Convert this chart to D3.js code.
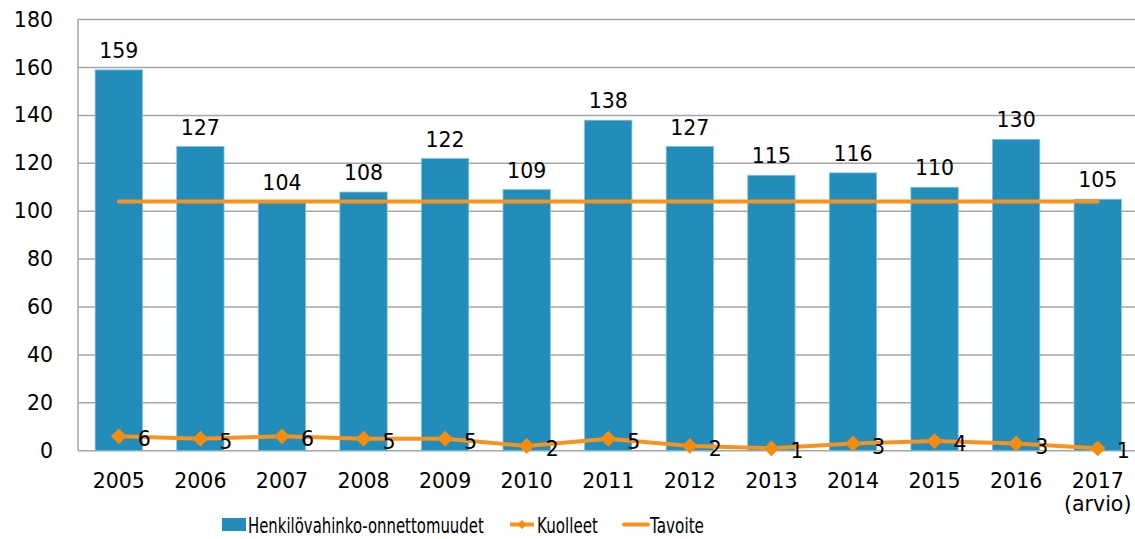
<!DOCTYPE html>
<html><head><meta charset="utf-8">
<script src="https://cdn.jsdelivr.net/npm/d3@7"></script>
<style>body{margin:0;background:#fff}svg{display:block}text{font-family:"DejaVu Sans",Verdana,sans-serif;fill:#000}</style>
</head><body>
<script>
const years = ["2005","2006","2007","2008","2009","2010","2011","2012","2013","2014","2015","2016","2017"];
const yearSub = ["","","","","","","","","","","","","(arvio)"];
const accidents = [159,127,104,108,122,109,138,127,115,116,110,130,105];
const deaths = [6,5,6,5,5,2,5,2,1,3,4,3,1];
const target = [104,104,104,104,104,104,104,104,104,104,104,104,104];
const yTicks = [0,20,40,60,80,100,120,140,160,180];
const legendLabels = ["Henkilövahinko-onnettomuudet","Kuolleet","Tavoite"];

const W=1135,H=539;
const svg=d3.select("body").append("svg").attr("width",W).attr("height",H);
const x=d3.scaleBand().domain(years).range([78,1138.5]).paddingInner(0.42).paddingOuter(0.21);
const y=d3.scaleLinear().domain([0,180]).range([450.7,19.6]);
const cx=d=>x(d)+x.bandwidth()/2;
const blue="#228DBB", orange="#F7931E", grid="#A6A6A6";

// gridlines
svg.append("g").selectAll("line").data(yTicks).join("line")
  .attr("x1",78).attr("x2",1138).attr("y1",d=>y(d)).attr("y2",d=>y(d))
  .attr("stroke",grid).attr("stroke-width",1.5);
svg.append("line").attr("x1",78).attr("x2",78).attr("y1",y(180)).attr("y2",y(0)).attr("stroke",grid).attr("stroke-width",1.5);
// y tick labels
svg.append("g").selectAll("text").data(yTicks).join("text")
  .attr("x",53).attr("y",d=>y(d)+7).attr("text-anchor","end").attr("font-size",20.5).text(d=>d);

// bars
svg.append("g").selectAll("rect").data(accidents).join("rect")
  .attr("x",(d,i)=>x(years[i])).attr("width",x.bandwidth())
  .attr("y",d=>y(d)).attr("height",d=>y(0)-y(d))
  .attr("fill",blue).attr("stroke","#7FC0DD").attr("stroke-width",0.8);
svg.append("g").selectAll("text").data(accidents).join("text")
  .attr("x",(d,i)=>cx(years[i])).attr("y",d=>y(d)-12).attr("text-anchor","middle").attr("font-size",20.5).text(d=>d);

// target line
svg.append("path").datum(target)
  .attr("d",d3.line().x((d,i)=>cx(years[i])).y(d=>y(d)))
  .attr("fill","none").attr("stroke",orange).attr("stroke-width",4).attr("stroke-linecap","round");

// deaths line
svg.append("path").datum(deaths)
  .attr("d",d3.line().x((d,i)=>cx(years[i])).y(d=>y(d)))
  .attr("fill","none").attr("stroke",orange).attr("stroke-width",4).attr("stroke-linejoin","round");
const diamond=d3.symbol().type(d3.symbolDiamond2).size(160);
svg.append("g").selectAll("path").data(deaths).join("path")
  .attr("transform",(d,i)=>`translate(${cx(years[i])},${y(d)})`)
  .attr("d",diamond).attr("fill","#F58C0E");
svg.append("g").selectAll("text").data(deaths).join("text")
  .attr("x",(d,i)=>cx(years[i])+19).attr("y",d=>y(d)+10).attr("font-size",20.5).text(d=>d);

// x labels
svg.append("g").selectAll("text").data(years).join("text")
  .attr("x",d=>cx(d)).attr("y",488).attr("text-anchor","middle").attr("font-size",20.5).text(d=>d);
svg.append("g").selectAll("text").data(yearSub).join("text")
  .attr("x",(d,i)=>cx(years[i])).attr("y",511).attr("text-anchor","middle").attr("font-size",20.5).text(d=>d);

// legend (text horizontally condensed via transform)
const lg=svg.append("g");
function legText(x0,w,label){
  const g=lg.append("g").attr("transform",`translate(${x0},533)`);
  const t=g.append("text").attr("x",0).attr("y",0).attr("font-size",20.5).text(label);
  const nat=t.node().getComputedTextLength();
  t.attr("transform",`scale(${w/nat},1)`);
}
lg.append("rect").attr("x",222).attr("y",518).attr("width",24).attr("height",13).attr("fill",blue);
legText(248,236,legendLabels[0]);
lg.append("line").attr("x1",510).attr("x2",534).attr("y1",524.5).attr("y2",524.5).attr("stroke",orange).attr("stroke-width",4);
lg.append("path").attr("transform","translate(522,524.5)").attr("d",d3.symbol().type(d3.symbolDiamond2).size(50)).attr("fill","#F58C0E");
legText(537,61,legendLabels[1]);
lg.append("line").attr("x1",624).attr("x2",648).attr("y1",524.5).attr("y2",524.5).attr("stroke",orange).attr("stroke-width",4).attr("stroke-linecap","round");
legText(650,54,legendLabels[2]);
</script>
</body></html>
